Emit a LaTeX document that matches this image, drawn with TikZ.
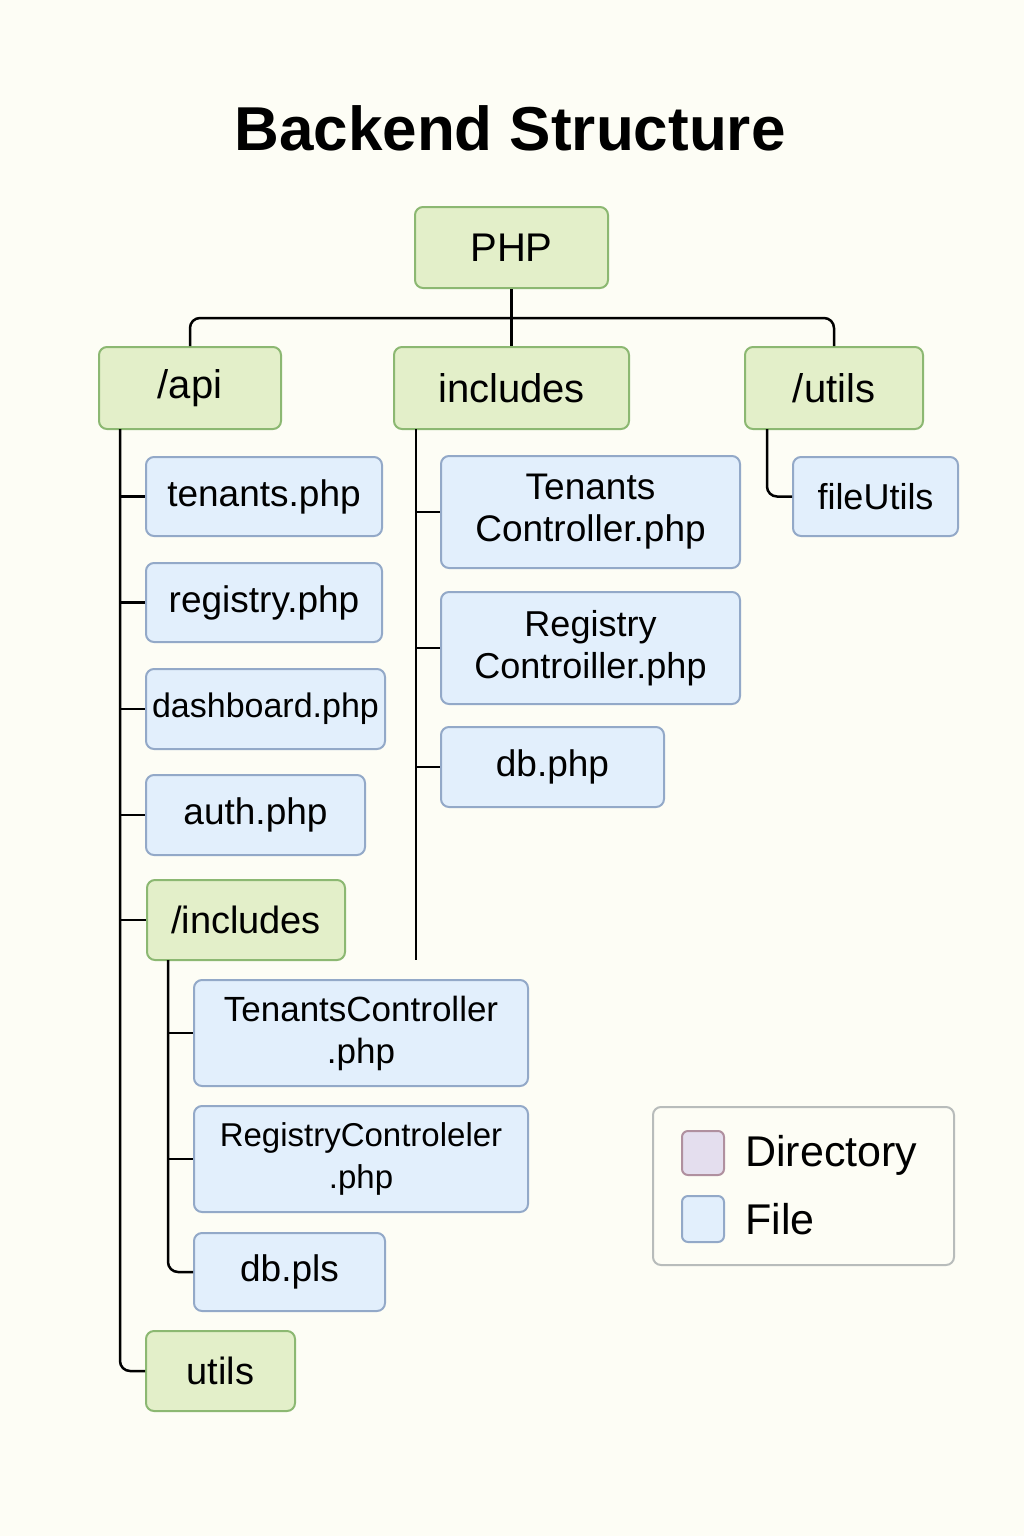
\documentclass[tikz,border=0pt]{standalone}
\usepackage{fontspec}
\setmainfont{Liberation Sans}
\definecolor{bgc}{HTML}{FDFDF5}
\definecolor{dirfill}{HTML}{E3EFC9}
\definecolor{dirdraw}{HTML}{8CB872}
\definecolor{filefill}{HTML}{E2EFFC}
\definecolor{filedraw}{HTML}{93A9C8}
\definecolor{legdraw}{HTML}{B8BCBB}
\definecolor{swdirfill}{HTML}{E4DEEE}
\definecolor{swdirdraw}{HTML}{B0909F}
\begin{document}
\begin{tikzpicture}[x=1pt,y=-1pt,
  dirbox/.style={draw=dirdraw,fill=dirfill,line width=2pt,rounded corners=8pt,inner sep=0pt,font=\fontsize{40}{44}\selectfont,align=center},
  filebox/.style={draw=filedraw,fill=filefill,line width=2pt,rounded corners=8pt,inner sep=0pt,font=\fontsize{37}{42}\selectfont,align=center},
  conn/.style={line width=2.5pt,black},
  rconn/.style={line width=2.5pt,black,rounded corners=10pt}]
\fill[bgc] (0,0) rectangle (1024,1536);
\useasboundingbox (0,0) rectangle (1024,1536);
\node[font=\fontsize{62}{66}\selectfont\bfseries] (title) at (510,128) {Backend Structure};
% top level
\node[dirbox,minimum width=193pt,minimum height=81pt] (php) at (511.5,247.5) {PHP};
\node[dirbox,minimum width=182pt,minimum height=82pt] (api) at (190,388) {/api};
\node[dirbox,minimum width=235pt,minimum height=82pt] (includes) at (511.5,388) {includes};
\node[dirbox,minimum width=178pt,minimum height=82pt] (utilsd) at (834,388) {/utils};
\coordinate (bus) at (511.5,318);
\draw[rconn] (api.north) |- (bus) -| (utilsd.north);
\draw[conn] (php.south) -- (includes.north);
% /api children
\node[filebox,minimum width=236pt,minimum height=79pt] (tenants) at (264,496.5) {tenants.php};
\node[filebox,minimum width=236pt,minimum height=79pt] (registry) at (264,602.5) {registry.php};
\node[filebox,minimum width=239pt,minimum height=80pt,font=\fontsize{34}{40}\selectfont] (dashboard) at (265.5,709) {dashboard.php};
\node[filebox,minimum width=219pt,minimum height=80pt] (auth) at (255.5,815) {auth.php};
\node[dirbox,minimum width=198pt,minimum height=80pt,font=\fontsize{38}{42}\selectfont] (incdir) at (246,920) {/includes};
\node[dirbox,minimum width=149pt,minimum height=80pt,font=\fontsize{38}{42}\selectfont] (utilsb) at (220.5,1371) {utils};
\coordinate (apitrunk) at (120,429);
\draw[conn] (apitrunk) |- (tenants.west);
\draw[conn] (apitrunk) |- (registry.west);
\draw[conn] (apitrunk) |- (dashboard.west);
\draw[conn] (apitrunk) |- (auth.west);
\draw[conn] (apitrunk) |- (incdir.west);
\draw[rconn] (apitrunk) |- (utilsb.west);
% /includes children
\node[filebox,minimum width=334pt,minimum height=106pt,font=\fontsize{35}{42}\selectfont] (tc2) at (361,1033) {TenantsController\\.php};
\node[filebox,minimum width=334pt,minimum height=106pt,font=\fontsize{33}{42}\selectfont] (rc2) at (361,1159) {RegistryControleler\\.php};
\node[filebox,minimum width=191pt,minimum height=78pt] (dbpls) at (289.5,1272) {db.pls};
\coordinate (inctrunk2) at (168,960);
\draw[conn] (inctrunk2) |- (tc2.west);
\draw[conn] (inctrunk2) |- (rc2.west);
\draw[rconn] (inctrunk2) |- (dbpls.west);
% includes children
\node[filebox,minimum width=299pt,minimum height=112pt] (tc1) at (590.5,512) {Tenants\\Controller.php};
\node[filebox,minimum width=299pt,minimum height=112pt,font=\fontsize{36}{42}\selectfont] (rc1) at (590.5,648) {Registry\\Controiller.php};
\node[filebox,minimum width=223pt,minimum height=80pt] (dbphp) at (552.5,767) {db.php};
\coordinate (inctrunk) at (416,429);
\coordinate (inctrunkend) at (416,960);
\draw[conn] (inctrunk) -- (inctrunkend);
\draw[conn] (inctrunk) |- (tc1.west);
\draw[conn] (inctrunk) |- (rc1.west);
\draw[conn] (inctrunk) |- (dbphp.west);
% /utils child
\node[filebox,minimum width=165pt,minimum height=79pt,font=\fontsize{36}{42}\selectfont] (fileutils) at (875.5,496.5) {fileUtils};
\coordinate (utrunk) at (767,429);
\draw[rconn] (utrunk) |- (fileutils.west);
% legend
\node[draw=legdraw,fill=bgc,line width=2pt,rounded corners=8pt,minimum width=301pt,minimum height=158pt] (legend) at (803.5,1186) {};
\node[draw=swdirdraw,fill=swdirfill,line width=2pt,rounded corners=6pt,minimum width=42pt,minimum height=44pt] (swdir) at (703,1153) {};
\node[draw=filedraw,fill=filefill,line width=2pt,rounded corners=6pt,minimum width=42pt,minimum height=46pt] (swfile) at (703,1219) {};
\node[anchor=west,inner sep=0pt,font=\fontsize{43}{46}\selectfont] (ldir) at (745,1155) {Directory};
\node[anchor=west,inner sep=0pt,font=\fontsize{43}{46}\selectfont] (lfile) at (745,1219) {File};
\end{tikzpicture}
\end{document}
